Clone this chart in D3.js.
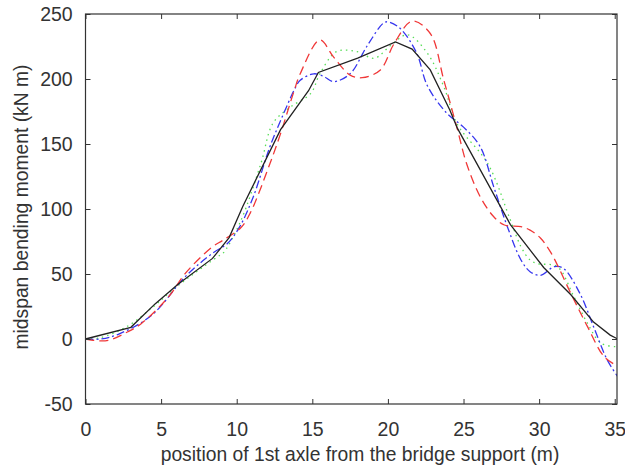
<!DOCTYPE html>
<html><head><meta charset="utf-8">
<script src="https://cdn.jsdelivr.net/npm/d3@7"></script>
<style>body{margin:0;background:#fff}svg{display:block}text{font-family:"Liberation Sans",Arial,sans-serif;fill:#333}</style>
</head><body>
<svg id="c" width="625" height="470"></svg>
<script>
const xTicks = [0,5,10,15,20,25,30,35];
const yTicks = [-50,0,50,100,150,200,250];
const xLabel = "position of 1st axle from the bridge support (m)";
const yLabel = "midspan bending moment (kN m)";

const blackX = [0,3,4.6,6.1,8.4,9.5,10.4,12.9,14.75,15.4,18,20.5,21.6,22.8,24.1,24.6,28.1,30.3,32.1,33.6,34.7,35.2];
const blackY = [0,9,27,42,62,78,102,161,191,205,216,228.5,223,207,176,162,88,55,34,13,3,0];

const redX = [0,0.5,1.5,2.8,3.7,5.5,6.6,8.4,9.1,10.3,10.9,12.2,12.9,13.8,14.2,15.5,16.4,17.5,18.3,19.5,20.4,21.6,22.8,23.7,24.6,25.2,26.1,27,27.7,28.8,29.4,30.1,30.8,32.1,33.2,34.3,35.2];
const redY = [0,-1,-1,5.6,12,32.5,50.5,71,76,86,97,135,158,191,204,230,217,203,201,207,227,244.5,235,199,161,135,109.5,94,87.7,86.4,83.8,77.5,66,35,9.5,-13.6,-21];

const blueX = [0,1,2.2,4.4,6.6,8.4,9.4,10.2,11.1,12.2,13.3,13.8,14.2,15.1,15.75,16.4,17.5,18.6,19.7,20,20.8,21.9,22.6,23.9,25,26.1,27,27.9,28.8,29.4,30.1,31,31.6,32.7,33.6,34.5,35.2];
const blueY = [0,0,3.8,18.5,48,66,73.6,86.4,109.5,148,178.7,191.5,199,204,202,198,204,225,243,244,239,220,195,173.6,163,148,117,86.4,60.8,51.8,49,55.6,54.4,35,9.5,-16,-29];

const greenX = [0,1,2.8,4.5,6,8.9,9.1,10.2,11.6,12.4,13.5,14.9,15.5,16.6,17.96,19.1,20.2,21.3,22.6,23.7,24.6,26.6,28.1,28.8,29.4,29.9,31.2,32.3,33.2,34.1,35.2];
const greenY = [0,1,10,25,40,64.6,66,89,135,166,178,189,204,221,221,216,226,234,220,194,165,135,91.5,71,60.8,58,55.6,32.5,12,-3.3,-6];

const svg = d3.select("#c");
const L=85.5, R=617, T=14, B=404;
const x = d3.scaleLinear().domain([0,35.15]).range([L,R]);
const y = d3.scaleLinear().domain([-50,250]).range([B,T]);

svg.append("clipPath").attr("id","clp").append("rect").attr("x",L).attr("y",T).attr("width",R-L).attr("height",B-T);

const series = [
  {xs:greenX, ys:greenY, color:"#55dd55", dash:"1.5,4", curve:d3.curveCatmullRom},
  {xs:blueX, ys:blueY, color:"#3636ee", dash:"8,3,2,3", curve:d3.curveCatmullRom},
  {xs:redX, ys:redY, color:"#f03838", dash:"9,5", curve:d3.curveCatmullRom},
  {xs:blackX, ys:blackY, color:"#222", dash:null, curve:d3.curveLinear}
];
series.forEach(s=>{
  const pts = s.xs.map((v,i)=>[v,s.ys[i]]);
  const line = d3.line().x(d=>x(d[0])).y(d=>y(d[1])).curve(s.curve);
  svg.append("path").attr("d",line(pts)).attr("fill","none").attr("stroke",s.color)
    .attr("stroke-width",1.3).attr("stroke-dasharray",s.dash).attr("clip-path","url(#clp)");
});

const FS = "19.5px";
const fmt = d => String(d);
const axB = d3.axisBottom(x).tickValues(xTicks).tickSize(-5).tickFormat(fmt);
const axT = d3.axisTop(x).tickValues(xTicks).tickSize(-5).tickFormat("");
const axL = d3.axisLeft(y).tickValues(yTicks).tickSize(-5).tickPadding(12.8).tickFormat(fmt);
const axR = d3.axisRight(y).tickValues(yTicks).tickSize(-5).tickFormat("");
function style(sel){sel.select(".domain").remove();sel.selectAll("line").attr("stroke","#333");sel.selectAll("text").attr("fill","#333").style("font-size",FS).attr("font-family",null);}
svg.append("g").attr("transform",`translate(0,${B})`).call(axB).call(style).selectAll("text").attr("y",31.7).attr("dy",null);
svg.append("g").attr("transform",`translate(0,${T})`).call(axT).call(style);
svg.append("g").attr("transform",`translate(${L},0)`).call(axL).call(style);
svg.append("g").attr("transform",`translate(${R},0)`).call(axR).call(style);
svg.append("rect").attr("x",L).attr("y",T).attr("width",R-L).attr("height",B-T).attr("fill","none").attr("stroke","#333").attr("stroke-width",1.2);

svg.append("text").attr("x",360).attr("y",461).attr("text-anchor","middle").style("font-size","19.3px").text(xLabel);
svg.append("text").attr("transform","translate(28,207) rotate(-90)").attr("text-anchor","middle").style("font-size","19.3px").text(yLabel);
</script>
</body></html>
